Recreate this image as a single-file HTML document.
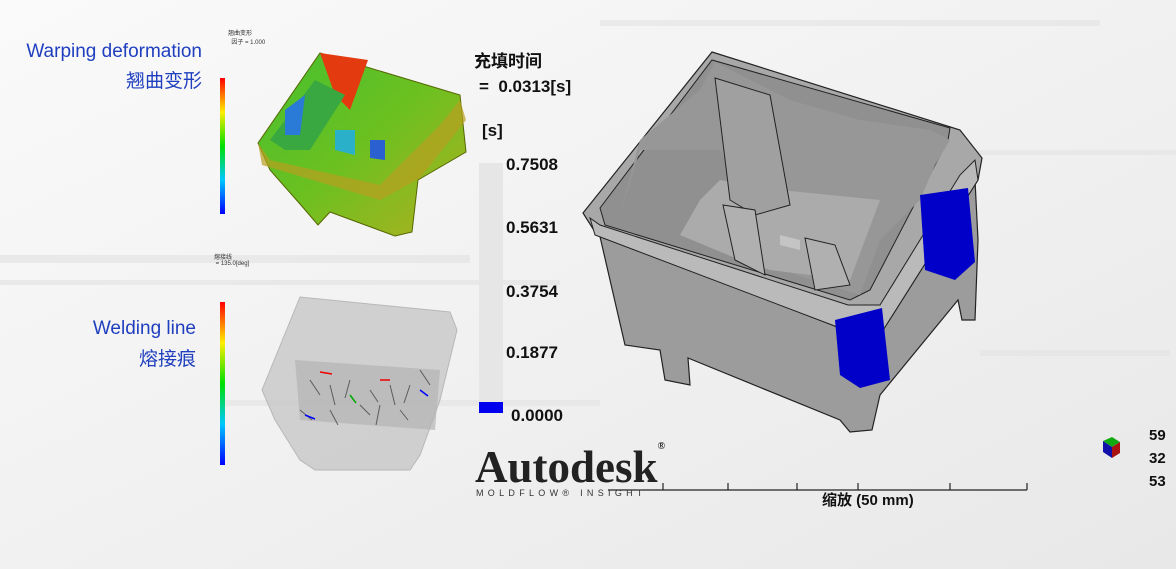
<!DOCTYPE html>
<html><head><meta charset="utf-8"><style>
body{margin:0;width:1176px;height:569px;overflow:hidden;background:#f3f3f3;font-family:"Liberation Sans","Noto Sans CJK SC",sans-serif;position:relative}
.t{position:absolute;white-space:nowrap}
.lbl{color:#1f3fbf;font-size:19px;text-align:right}
.num{font-family:"Liberation Sans","Noto Sans CJK SC",sans-serif;font-weight:bold;font-size:17px;color:#111}
</style></head><body>
<svg width="1176" height="569" style="position:absolute;left:0;top:0">
<defs>
<linearGradient id="bg" x1="0" y1="0" x2="1" y2="1"><stop offset="0" stop-color="#fafafa"/><stop offset="1" stop-color="#e8e8e8"/></linearGradient>
<linearGradient id="cb" x1="0" y1="1" x2="0" y2="0"><stop offset="0" stop-color="#0000ff"/><stop offset=".25" stop-color="#00c8ff"/><stop offset=".5" stop-color="#00e000"/><stop offset=".75" stop-color="#ffee00"/><stop offset="1" stop-color="#ff0000"/></linearGradient>
<linearGradient id="warp" x1="0" y1="0" x2="1" y2="1"><stop offset="0" stop-color="#44c030"/><stop offset=".5" stop-color="#6cc020"/><stop offset="1" stop-color="#b0b020"/></linearGradient>
</defs>
<rect width="1176" height="569" fill="url(#bg)"/>
<g fill="#e2e2e2" opacity=".6">
<rect x="0" y="255" width="470" height="8"/><rect x="0" y="280" width="560" height="5"/><rect x="220" y="400" width="380" height="6"/><rect x="600" y="20" width="500" height="6"/><rect x="950" y="150" width="226" height="5"/><rect x="980" y="350" width="190" height="6"/>
</g>
<!-- warping part -->
<rect x="220" y="78" width="5" height="136" fill="url(#cb)"/>
<polygon points="258,143 320,53 460,95 466,152 418,180 412,232 395,236 330,212 318,225 300,204 270,170" fill="url(#warp)" stroke="#556600" stroke-width="1"/>
<polygon points="320,53 368,60 350,110 335,95" fill="#e33a10"/>
<polygon points="270,140 315,80 345,95 310,150 285,150" fill="#3aa840"/>
<polygon points="285,110 305,95 300,135 285,135" fill="#2a7ad8"/>
<polygon points="335,130 355,130 355,155 335,150" fill="#2ab0c8"/>
<polygon points="370,140 385,140 385,160 370,158" fill="#2a60d0"/>
<polygon points="258,143 270,160 380,185 440,125 460,100 466,120 420,178 380,200 262,165" fill="#b8a020" opacity=".7"/>
<!-- welding part -->
<rect x="220" y="302" width="5" height="163" fill="url(#cb)"/>
<polygon points="262,390 300,297 450,312 457,330 440,400 420,455 410,470 315,470 300,460 275,420" fill="#c8c8c8" opacity=".8" stroke="#aaa"/>
<polygon points="295,360 440,370 435,430 300,420" fill="#b4b4b4" opacity=".7"/>
<g stroke="#333" stroke-width="1" fill="none" opacity=".7">
<path d="M310 380 l10 15 M330 385 l5 20 M350 380 l-5 18 M370 390 l8 12 M390 385 l5 20 M410 385 l-6 18 M420 370 l10 15 M300 410 l12 10 M330 410 l8 15 M360 405 l10 10 M380 405 l-4 20 M400 410 l8 10"/>
</g>
<g stroke-width="1.5" fill="none"><path d="M320 372 l12 2" stroke="#e00"/><path d="M380 380 l10 0" stroke="#e00"/><path d="M420 390 l8 6" stroke="#00f"/><path d="M305 415 l10 4" stroke="#00f"/><path d="M350 395 l6 8" stroke="#0a0"/></g>
<!-- colour bar -->
<rect x="479" y="163" width="24" height="240" fill="#e6e6e6"/>
<rect x="479" y="402" width="24" height="11" fill="#0000ee"/>
<!-- big part -->
<polygon points="598,228 625,345 660,350 665,380 690,385 688,358 840,420 850,432 872,430 880,395 958,300 962,320 975,320 978,240 975,180 880,330" fill="#9c9c9c" stroke="#222" stroke-width="1.2"/>
<polygon points="583,213 712,52 960,130 982,158 978,180 880,335 840,328 595,232" fill="#a8a8a8" stroke="#222" stroke-width="1.2"/>
<polygon points="600,208 712,60 950,128 948,140 870,290 850,300 605,225" fill="#909090" stroke="#222"/>
<polygon points="620,215 640,150 720,150 760,230 750,260 860,295 880,240 920,200 935,165 950,140 930,130 860,120 790,100 715,62 700,90 640,140" fill="#979797"/>
<polygon points="680,235 740,260 770,270 850,280 880,200 780,190 720,180 700,200" fill="#ababab"/>
<polygon points="715,78 770,95 790,205 755,215 730,200" fill="#a0a0a0" stroke="#222"/>
<polygon points="723,205 755,210 765,275 735,260" fill="#b0b0b0" stroke="#222"/>
<polygon points="805,238 835,245 850,285 815,290" fill="#b0b0b0" stroke="#222"/>
<polygon points="590,218 600,225 848,305 880,305 960,175 975,160 978,180 880,335 840,328 595,235" fill="#bababa" stroke="#222"/>
<polygon points="835,320 882,308 890,380 860,388 840,375" fill="#0000c8"/>
<polygon points="920,195 968,188 975,262 955,280 925,270" fill="#0000c8"/>
<polygon points="780,235 800,240 800,250 780,245" fill="#c4c4c4"/>
<!-- scale bar -->
<g stroke="#222" stroke-width="1.2"><line x1="608" y1="490" x2="1027" y2="490"/><line x1="663" y1="483" x2="663" y2="490"/><line x1="728" y1="483" x2="728" y2="490"/><line x1="797" y1="483" x2="797" y2="490"/><line x1="858" y1="483" x2="858" y2="490"/><line x1="950" y1="483" x2="950" y2="490"/><line x1="1027" y1="483" x2="1027" y2="490"/></g>
<!-- axis cube -->
<polygon points="1103,441 1112,437 1120,442 1112,447" fill="#11aa11"/><polygon points="1103,441 1112,447 1112,458 1103,452" fill="#1111aa"/><polygon points="1112,447 1120,442 1120,453 1112,458" fill="#aa1111"/>
</svg>
<div class="t lbl" style="right:974px;top:41px">Warping deformation</div>
<div class="t lbl" style="right:974px;top:66px">翘曲变形</div>
<div class="t lbl" style="right:980px;top:318px">Welding line</div>
<div class="t lbl" style="right:980px;top:344px">熔接痕</div>
<div class="t" style="left:228px;top:28px;font-size:6px;color:#333">翘曲变形<br>&nbsp;&nbsp;因子 = 1.000</div>
<div class="t" style="left:214px;top:252px;font-size:6px;color:#333">熔接线<br>&nbsp;= 135.0[deg]</div>
<div class="t num" style="left:474px;top:47px">充填时间</div>
<div class="t num" style="left:479px;top:77px">= &nbsp;0.0313[s]</div>
<div class="t num" style="left:482px;top:121px">[s]</div>
<div class="t num" style="left:506px;top:155px">0.7508</div>
<div class="t num" style="left:506px;top:218px">0.5631</div>
<div class="t num" style="left:506px;top:282px">0.3754</div>
<div class="t num" style="left:506px;top:343px">0.1877</div>
<div class="t num" style="left:511px;top:406px">0.0000</div>
<div class="t" style="left:475px;top:441px;font-family:'Liberation Serif',serif;font-weight:bold;font-size:45px;color:#222;letter-spacing:0px">Autodesk<span style="font-size:10px;vertical-align:top">®</span></div>
<div class="t" style="left:476px;top:488px;font-size:9px;color:#333;letter-spacing:4.3px">MOLDFLOW® INSIGHT</div>
<div class="t num" style="left:822px;top:489px;font-size:15px">缩放 (50 mm)</div>
<div class="t num" style="left:1149px;top:427px;font-size:15px">59</div>
<div class="t num" style="left:1149px;top:450px;font-size:15px">32</div>
<div class="t num" style="left:1149px;top:473px;font-size:15px">53</div>
</body></html>
